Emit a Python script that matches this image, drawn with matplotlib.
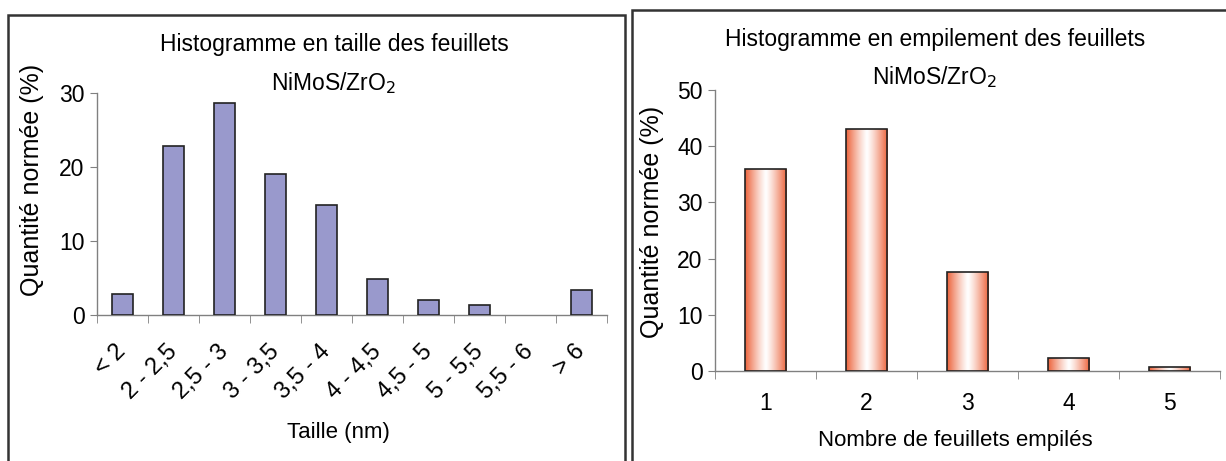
import numpy as np
import matplotlib
matplotlib.use("Agg")
from matplotlib import pyplot as plt
from matplotlib.patches import Rectangle

plt.rcParams['font.family'] = ['Liberation Sans', 'DejaVu Sans']

# data: size histogram
size_labels = ["< 2", "2 - 2,5", "2,5 - 3", "3 - 3,5", "3,5 - 4",
               "4 - 4,5", "4,5 - 5", "5 - 5,5", "5,5 - 6", "> 6"]
size_values = [2.8, 22.8, 28.7, 19.0, 14.9, 4.9, 2.0, 1.3, 0.0, 3.4]

# data: stacking histogram
stack_labels = ["1", "2", "3", "4", "5"]
stack_values = [36.0, 43.0, 17.7, 2.3, 0.7]

W, H = 1226, 461
fig = plt.figure(figsize=(W / 100, H / 100), dpi=100)


def fx(px):
    return px / W


def fy(py):
    return 1 - py / H


# panel frames
fig.patches.append(Rectangle((fx(8), -0.05), fx(625 - 8), 1.05 - 15 / H,
                             transform=fig.transFigure, fill=False,
                             edgecolor="#333333", lw=1.8))
fig.patches.append(Rectangle((fx(632), -0.05), fx(1240 - 632), 1.05 - 10 / H,
                             transform=fig.transFigure, fill=False,
                             edgecolor="#333333", lw=1.8))

axis_col = "#808080"


def style_axes(ax, tick_size):
    for s in ["top", "right"]:
        ax.spines[s].set_visible(False)
    for s in ["left", "bottom"]:
        ax.spines[s].set_color(axis_col)
        ax.spines[s].set_linewidth(1.0)
    ax.tick_params(axis="y", direction="out", length=5, color=axis_col,
                   labelsize=tick_size, pad=4)
    ax.tick_params(axis="x", which="major", length=0, labelsize=tick_size)
    ax.tick_params(axis="x", which="minor", direction="out", length=6,
                   color=axis_col)


# 1. size histogram
ax1 = fig.add_axes([fx(97), fy(315), fx(607 - 97), (315 - 93) / H])
x1 = np.arange(len(size_values))
edges1 = ["none" if v == 0 else "#222222" for v in size_values]
ax1.bar(x1, size_values, width=0.42, color="#9999cc", edgecolor=edges1,
        linewidth=1.2, zorder=3)
ax1.set_xlim(-0.5, len(size_values) - 0.5)
ax1.set_ylim(0, 30)
ax1.set_yticks([0, 10, 20, 30])
ax1.set_xticks(x1)
ax1.set_xticks(np.arange(-0.5, len(size_values)), minor=True)
ax1.set_xticklabels(size_labels, rotation=45, ha="right", va="center",
                    rotation_mode="anchor")
style_axes(ax1, 16.5)
ax1.tick_params(axis="x", which="major", labelsize=17, pad=24)
fig.text(fx(338), fy(432), "Taille (nm)", ha="center", va="center",
         fontsize=16)
fig.text(fx(32), fy(180), "Quantité normée (%)", ha="center", va="center",
         rotation=90, fontsize=18)
fig.text(fx(334), fy(45), "Histogramme en taille des feuillets",
         ha="center", va="center", fontsize=16.5)
fig.text(fx(334), fy(83), "NiMoS/ZrO$_2$", ha="center", va="center",
         fontsize=16.5)

# 2. stacking histogram with orange-white-orange gradient bars
ax2 = fig.add_axes([fx(715), fy(371), fx(1220 - 715), (371 - 90) / H])
x2 = np.arange(len(stack_values))
bars = ax2.bar(x2, stack_values, width=0.41, color="none",
               edgecolor="#222222", linewidth=1.2, zorder=4)
t = np.linspace(0, 1, 256)
w = np.abs(t - 0.5) * 2
edge = np.array([236, 98, 58]) / 255.0
grad = (1 - w[:, None] ** 1.2) * np.ones(3) + (w[:, None] ** 1.2) * edge
grad = grad[np.newaxis, :, :]
for b in bars:
    bx, by = b.get_x(), b.get_y()
    bw, bh = b.get_width(), b.get_height()
    im = ax2.imshow(grad, extent=[bx, bx + bw, by, by + bh], aspect="auto",
                    zorder=3, interpolation="bilinear")
    im.set_clip_path(b)
ax2.set_xlim(-0.5, len(stack_values) - 0.5)
ax2.set_ylim(0, 50)
ax2.set_yticks([0, 10, 20, 30, 40, 50])
ax2.set_xticks(x2)
ax2.set_xticks(np.arange(-0.5, len(stack_values)), minor=True)
ax2.set_xticklabels(stack_labels)
style_axes(ax2, 16.5)
ax2.tick_params(axis="x", which="major", pad=15)
fig.text(fx(955), fy(440), "Nombre de feuillets empilés", ha="center",
         va="center", fontsize=16)
fig.text(fx(652), fy(222), "Quantité normée (%)", ha="center", va="center",
         rotation=90, fontsize=18)
fig.text(fx(935), fy(39), "Histogramme en empilement des feuillets",
         ha="center", va="center", fontsize=16.5)
fig.text(fx(935), fy(77), "NiMoS/ZrO$_2$", ha="center", va="center",
         fontsize=16.5)

fig.savefig("out.png", dpi=100)
